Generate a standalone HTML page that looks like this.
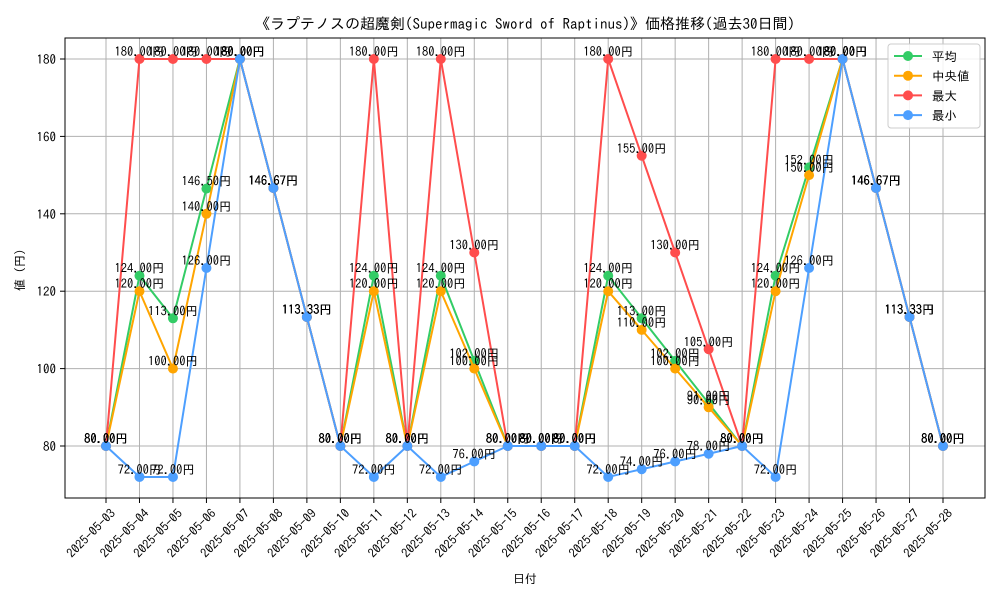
<!DOCTYPE html>
<html><head><meta charset="utf-8"><style>
body{margin:0;background:#fff}
svg text{font-family:"IPAGothic","Noto Sans CJK JP",sans-serif}
</style></head><body>
<svg id="chart" width="1000" height="600" xmlns="http://www.w3.org/2000/svg">
<rect width="1000" height="600" fill="#fff"/>
<text x="525" y="29" font-size="15" text-anchor="middle">《ラプテノスの超魔剣(Supermagic Sword of Raptinus)》価格推移(過去30日間)</text>
<g id="grid"></g>
<g id="axes"></g>
<g id="series"></g>
<g id="labels"></g>
<rect x="65" y="38" width="920" height="460" fill="none" stroke="#000" stroke-width="1"/>
<text x="24" y="270" font-size="12" text-anchor="middle" transform="rotate(-90 24 270)">値 (円)</text>
<text x="525" y="583" font-size="12" text-anchor="middle">日付</text>
<g id="legend"></g>
</svg>
<script>
const dates=["2025-05-03","2025-05-04","2025-05-05","2025-05-06","2025-05-07","2025-05-08","2025-05-09","2025-05-10","2025-05-11","2025-05-12","2025-05-13","2025-05-14","2025-05-15","2025-05-16","2025-05-17","2025-05-18","2025-05-19","2025-05-20","2025-05-21","2025-05-22","2025-05-23","2025-05-24","2025-05-25","2025-05-26","2025-05-27","2025-05-28"];
const avgValues=[80,124,113,146.5,180,146.67,113.33,80,124,80,124,102,80,80,80,124,113,102,91,80,124,152,180,146.67,113.33,80];
const medianValues=[80,120,100,140,180,146.67,113.33,80,120,80,120,100,80,80,80,120,110,100,90,80,120,150,180,146.67,113.33,80];
const maxValues=[80,180,180,180,180,146.67,113.33,80,180,80,180,130,80,80,80,180,155,130,105,80,180,180,180,146.67,113.33,80];
const minValues=[80,72,72,126,180,146.67,113.33,80,72,80,72,76,80,80,80,72,74,76,78,80,72,126,180,146.67,113.33,80];
const yTicks=[80,100,120,140,160,180];
const seriesNames=["平均","中央値","最大","最小"];
const seriesColors=["#33cc66","#ffa500","#ff4d4d","#4d9fff"];
const NS="http://www.w3.org/2000/svg";
const xs=i=>106+i*(943-106)/25;
const ys=v=>446-(v-80)*3.87;
function mk(tag,attrs,parent){const e=document.createElementNS(NS,tag);for(const k in attrs)e.setAttribute(k,attrs[k]);parent.appendChild(e);return e;}
const grid=document.getElementById('grid'),axes=document.getElementById('axes'),ser=document.getElementById('series'),lab=document.getElementById('labels'),leg=document.getElementById('legend');
dates.forEach((d,i)=>{
 const x=xs(i);
 const g=mk('line',{x1:x,x2:x,y1:38,y2:498,stroke:'#b0b0b0','stroke-width':1},grid);
 
 
 const t=mk('line',{x1:x,x2:x,y1:498,y2:503,stroke:'#000'},axes);
 
 
 const tx=mk('text',{x:x+4,y:508,'font-size':12.5,'text-anchor':'end',transform:`rotate(-45 ${x+4} 508)`,'dominant-baseline':'hanging'},axes);
 tx.textContent=d;
 
 
});
yTicks.forEach(v=>{
 const y=ys(v);
 const g=mk('line',{x1:65,x2:985,y1:y,y2:y,stroke:'#b0b0b0','stroke-width':1},grid);
 
 
 const t=mk('line',{x1:60,x2:65,y1:y,y2:y,stroke:'#000'},axes);
 
 
 const tx=mk('text',{x:56,y:y+5,'font-size':13,'text-anchor':'end'},axes);
 tx.textContent=v;
 
 
});
const allSeries=[avgValues,medianValues,maxValues,minValues];
const keys=["avg","median","max","min"];
allSeries.forEach((vals,s)=>{
 const p=mk('polyline',{points:vals.map((v,i)=>xs(i)+','+ys(v)).join(' '),fill:'none',stroke:seriesColors[s],'stroke-width':2},ser);
 
 
 vals.forEach((v,i)=>{
  const c=mk('circle',{cx:xs(i),cy:ys(v),r:5,fill:seriesColors[s]},ser);
  
  
  const t=mk('text',{x:xs(i),y:ys(v)-3,'font-size':12.5,'text-anchor':'middle'},lab);
  t.textContent=v.toFixed(2)+'円';
  
  
 });
});
const lb=mk('rect',{x:888,y:44,width:92,height:84,fill:'#fff','fill-opacity':0.85,stroke:'#ccc',rx:3},leg);


seriesNames.forEach((n,s)=>{
 const y=56+s*19.7;
 const l=mk('line',{x1:894,x2:922,y1:y,y2:y,stroke:seriesColors[s],'stroke-width':2},leg);
 
 
 const c=mk('circle',{cx:908,cy:y,r:5,fill:seriesColors[s]},leg);
 
 
 const t=mk('text',{x:932,y:y+5,'font-size':12.5},leg);
 t.textContent=n;
 
 
});
</script>
</body></html>
